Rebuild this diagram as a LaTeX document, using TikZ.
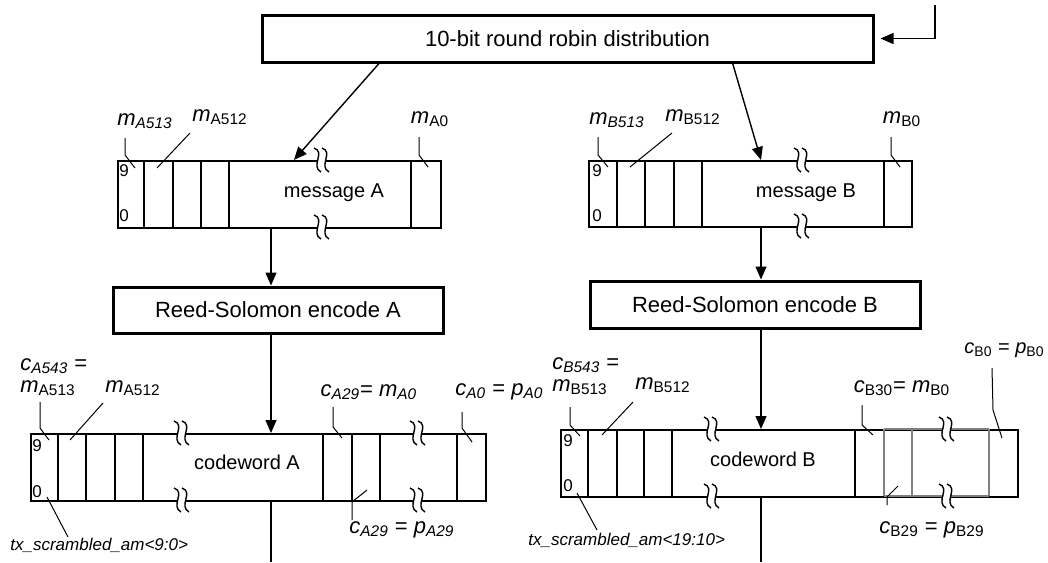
\documentclass[tikz,border=0pt]{standalone}
\usepackage{fontspec}
\setmainfont{Liberation Sans}
\usetikzlibrary{arrows.meta,positioning,calc}
\newcommand{\sg}[2]{\textit{#1}\textsubscript{#2}}
\newcommand{\sgi}[2]{\textit{#1}\textsubscript{\textit{#2}}}

\begin{document}
\begin{tikzpicture}[x=0.5pt,y=-0.5pt,
  arr/.style={line width=0.7pt,-{Triangle[length=6.5pt,width=5.5pt]}},
  blk/.style={draw,line width=1.5pt,inner sep=0pt,font=\fontsize{11}{13}\selectfont},
  reg/.style={draw,line width=0.8pt,inner sep=0pt,anchor=north west},
  cell/.style={line width=0.8pt},
  txt/.style={inner sep=0pt,font=\fontsize{10}{12}\selectfont},
  lbl/.style={inner sep=0pt,font=\fontsize{11}{11}\selectfont,align=left},
  lead/.style={line width=0.5pt},
  bit/.style={inner sep=0pt,font=\fontsize{8.5}{10}\selectfont},
  tag/.style={inner sep=0pt,anchor=west,font=\fontsize{8.5}{10}\selectfont\itshape},
  brk/.pic={\fill[white] (-4,-3) rectangle (4,3);
    \draw[line width=0.7pt] (-8,-12) .. controls (4,-8) and (-12,6) .. (-1,12);
    \draw[line width=0.7pt] (0,-12) .. controls (12,-8) and (-4,6) .. (7,12);}]
\useasboundingbox (0,0) rectangle (1048,562);

\node[blk,minimum width=305.5pt,minimum height=23.5pt] (dist) at (567.5,38.5) {10-bit round robin distribution};
\node[blk,minimum width=165pt,minimum height=23pt] (rsA) at (278,310) {Reed-Solomon encode A};
\node[blk,minimum width=165pt,minimum height=23.5pt] (rsB) at (755,304.5) {Reed-Solomon encode B};

% registers
\node[reg,minimum width=161.5pt,minimum height=33.5pt] (msgA) at (117,160) {};
\node[reg,minimum width=161.5pt,minimum height=33pt] (msgB) at (588,160) {};
\node[reg,minimum width=227.5pt,minimum height=33.5pt] (cwA) at (30,433) {};
\node[reg,minimum width=228.5pt,minimum height=33.5pt] (cwB) at (560,429) {};
\foreach \x in {144,173,201,229,411} \draw[cell] (\x,160) -- (\x,227);
\foreach \x in {617,645,674,702,884} \draw[cell] (\x,160) -- (\x,226);
\foreach \x in {58,86,115,143,323,352,380,457} \draw[cell] (\x,433) -- (\x,500);
\foreach \x in {588,617,644,672,855} \draw[cell] (\x,429) -- (\x,496);
\foreach \x in {884,912,989} \draw[cell,gray] (\x,429) -- (\x,496);
\draw[cell,gray] (884,429) -- (989,429) (884,496) -- (989,496);
\foreach \x/\ya/\yb in {322/160/227,802/160/226,182/433/500,418/433/500,712/429/496,947/429/496}
  {\pic at (\x,\ya) {brk}; \pic at (\x,\yb) {brk};}

\node[txt] (msgAt) at (334,193) {message A};
\node[txt] (msgBt) at (806,193) {message B};
\node[txt] (cwAt) at (247,462) {codeword A};
\node[txt] (cwBt) at (763,459) {codeword B};
\node[bit] (a9) at (124,171) {9}; \node[bit] (a0) at (124,216) {0};
\node[bit] (b9) at (597,171) {9}; \node[bit] (b0) at (597,216) {0};
\node[bit] (ca9) at (37,446) {9}; \node[bit] (ca0) at (37,492) {0};
\node[bit] (cb9) at (568,441) {9}; \node[bit] (cb0) at (568,486) {0};

% flow
\coordinate (colA) at (271,0);
\coordinate (colB) at (761,0);
\coordinate (outA) at (271,562);
\coordinate (outB) at (761,562);
\coordinate (fb) at (935,5);
\draw[arr,shorten >=3pt] (fb) |- (dist.east);
\draw[arr] ($(dist.south west)!0.193!(dist.south east)$) -- ($(msgA.north west)!0.545!(msgA.north east)$);
\draw[arr] ($(dist.south west)!0.769!(dist.south east)$) -- ($(msgB.north west)!0.533!(msgB.north east)$);
\draw[arr] (msgA.south -| colA) -- (rsA.north -| colA);
\draw[arr] (rsA.south -| colA) -- (cwA.north -| colA);
\draw[line width=0.7pt] (cwA.south -| colA) -- (outA);
\draw[arr] (msgB.south -| colB) -- (rsB.north -| colB);
\draw[arr] (rsB.south -| colB) -- (cwB.north -| colB);
\draw[line width=0.7pt] (cwB.south -| colB) -- (outB);

% labels and leaders
\node[lbl] (mA513) at (145,121) {\sgi{m}{A513}};
\node[lbl] (mA512) at (220,117) {\sg{m}{A512}};
\node[lbl] (mA0) at (430,119) {\sg{m}{A0}};
\node[lbl] (mB513) at (617,120) {\sgi{m}{B513}};
\node[lbl] (mB512) at (693,117) {\sg{m}{B512}};
\node[lbl] (mB0) at (902,119) {\sg{m}{B0}};
\node[lbl,anchor=west] (cA543) at (20,377) {\sgi{c}{A543} =\\\sg{m}{A513}};
\node[lbl] (cmA512) at (133,388) {\sg{m}{A512}};
\node[lbl] (cA29) at (369,392) {\sgi{c}{A29}= \sgi{m}{A0}};
\node[lbl,anchor=west] (cA0) at (455,392) {\sgi{c}{A0} = \sgi{p}{A0}};
\node[lbl] (pA29) at (402,530) {\sgi{c}{A29} = \sgi{p}{A29}};
\node[tag] (txA) at (10,545) {tx\_scrambled\_am<9:0>};
\node[lbl,anchor=west] (cB543) at (552,376) {\sgi{c}{B543} =\\\sg{m}{B513}};
\node[lbl] (cmB512) at (663,385) {\sg{m}{B512}};
\node[lbl] (cB30) at (902,388) {\sg{c}{B30}= \sg{m}{B0}};
\node[lbl,anchor=east,font=\fontsize{10}{10}\selectfont] (cB0) at (1045,350) {\sg{c}{B0} = \sg{p}{B0}};
\node[lbl] (pB29) at (932,530) {\sg{c}{B29} = \sg{p}{B29}};
\node[tag] (txB) at (528,540) {tx\_scrambled\_am<19:10>};

\coordinate (mA513e) at (135,168);
\coordinate (mA512e) at (157,168);
\coordinate (mA0e) at (428,167);
\coordinate (mB513e) at (608,167);
\coordinate (mB512e) at (630,167);
\coordinate (mB0e) at (900,167);
\coordinate (cA543e) at (49,440);
\coordinate (cmA512e) at (70,440);
\coordinate (cA29e) at (342,438);
\coordinate (cA0e) at (472,442);
\coordinate (pA29e) at (367,490);
\coordinate (txAe) at (47,497);
\coordinate (cB543e) at (580,436);
\coordinate (cmB512e) at (602,435);
\coordinate (cB30e) at (873,435);
\coordinate (cB0e) at (1002,438);
\coordinate (pB29e) at (898,486);
\coordinate (txBe) at (577,493);
\draw[lead] (mA513e) -- ++(-10,-13) -- ++(0,-17);
\draw[lead] (mA512e) -- ++(33,-35);
\draw[lead] (mA0e) -- ++(-9,-12) -- ++(0,-18);
\draw[lead] (mB513e) -- ++(-10,-12) -- ++(0,-18);
\draw[lead] (mB512e) -- ++(42,-34);
\draw[lead] (mB0e) -- ++(-9,-12) -- ++(0,-18);
\draw[lead] (cA543e) -- ++(-9,-12) -- ++(0,-26);
\draw[lead] (cmA512e) -- ++(33,-37);
\draw[lead] (cA29e) -- ++(-9,-11) -- ++(0,-20);
\draw[lead] (cA0e) -- ++(-10,-14) -- ++(0,-16);
\draw[lead] (pA29e) -- ++(-15,12) -- ++(0,18);
\draw[lead] (txAe) -- ++(21,40);
\draw[lead] (cB543e) -- ++(-10,-11) -- ++(0,-18);
\draw[lead] (cmB512e) -- ++(31,-33);
\draw[lead] (cB30e) -- ++(-11,-10) -- ++(0,-20);
\draw[lead] (cB0e) -- ++(-9,-28) -- ++(-1,-42);
\draw[lead] (pB29e) -- ++(-11,11) -- ++(0,8);
\draw[lead] (txBe) -- ++(20,37);
\end{tikzpicture}
\end{document}
